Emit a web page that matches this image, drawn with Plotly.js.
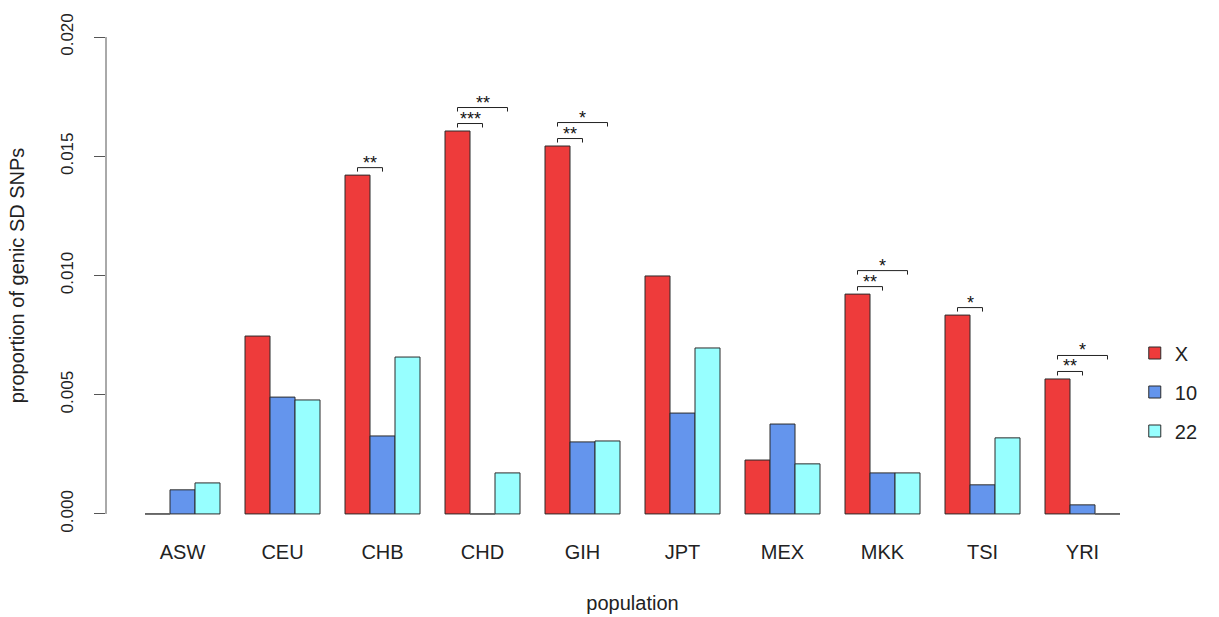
<!DOCTYPE html>
<html>
<head>
<meta charset="utf-8">
<script src="https://cdn.plot.ly/plotly-3.0.1.min.js"></script>
<style>html,body{margin:0;padding:0;background:#fff;}#chart{width:1219px;height:617px;}</style>
</head>
<body>
<div id="chart"></div>
<script>
const populations = ["ASW","CEU","CHB","CHD","GIH","JPT","MEX","MKK","TSI","YRI"];
const seriesNames = ["X","10","22"];
const valuesX  = [0.0000, 0.00746, 0.01421, 0.01606, 0.01543, 0.00998, 0.00226, 0.00922, 0.00834, 0.00566];
const values10 = [0.00101, 0.00490, 0.00327, 0.0000, 0.00302, 0.00423, 0.00377, 0.00172, 0.00122, 0.00038];
const values22 = [0.00130, 0.00478, 0.00658, 0.00172, 0.00306, 0.00696, 0.00210, 0.00172, 0.00319, 0.0000];
const sigX10 = ["", "", "**", "***", "**", "", "", "**", "*", "**"];
const sigX22 = ["", "", "", "**", "*", "", "", "*", "", "*"];
const yTicks = [0, 0.005, 0.010, 0.015, 0.020];
const yTickText = ["0.000","0.005","0.010","0.015","0.020"];

const colors = ["#EE3B3B", "#6495ED", "#97FFFF"];
const allSeries = [valuesX, values10, values22];
const FONT = "Liberation Sans, Arial, sans-serif";

const traces = allSeries.map((vals, k) => ({
  type: "bar",
  name: seriesNames[k],
  legendgroup: "g" + k,
  x: populations,
  y: vals,
  marker: {color: colors[k], line: {color: "#2b2b2b", width: 1}},
  hoverinfo: "x+y+name"
}));

const shapes = [];
const annotations = [];
const pxPerUnit = 477 / 0.020;
const d = px => px / pxPerUnit;

// y axis line from 0 to 0.020
shapes.push({type: "line", xref: "paper", yref: "y", x0: 0, x1: 0, y0: 0, y1: 0.020,
  line: {color: "#555", width: 1}});

// zero-height bars drawn as baseline segments
const offsets = [-0.25, 0, 0.25];
allSeries.forEach((vals, k) => {
  vals.forEach((v, i) => {
    if (v === 0) {
      shapes.push({type: "line", xref: "x", yref: "y",
        x0: i + offsets[k] - 0.125, x1: i + offsets[k] + 0.125, y0: 0, y1: 0,
        line: {color: "#777", width: 1}});
    }
  });
});

function bracket(xa, xb, yb, label) {
  const tick = d(4);
  shapes.push({type: "path", xref: "x", yref: "y",
    path: `M ${xa},${yb - tick} L ${xa},${yb} L ${xb},${yb} L ${xb},${yb - tick}`,
    line: {color: "#222", width: 1}});
  annotations.push({xref: "x", yref: "y", x: (xa + xb) / 2, y: yb, text: label,
    showarrow: false, yanchor: "middle", yshift: 5, font: {family: FONT, size: 18, color: "#111"}});
}

populations.forEach((p, i) => {
  const top = valuesX[i];
  const y1 = top + d(7.5);
  const y2 = y1 + d(16);
  if (sigX10[i]) bracket(i - 0.25, i, y1, sigX10[i]);
  if (sigX22[i]) bracket(i - 0.25, i + 0.25, y2, sigX22[i]);
});

const layout = {
  width: 1219, height: 617,
  margin: {l: 106, r: 60, t: 18, b: 84},
  paper_bgcolor: "#fff", plot_bgcolor: "#fff",
  barmode: "group", bargap: 0.25, bargroupgap: 0,
  font: {family: FONT, size: 16, color: "#222"},
  showlegend: true,
  legend: {x: 0.977, xanchor: "left",
    y: 1 - (392 - 18) / 515, yanchor: "middle",
    font: {family: FONT, size: 20, color: "#222"}, tracegroupgap: 10, itemwidth: 30,
    bgcolor: "rgba(0,0,0,0)"},
  xaxis: {
    type: "category", range: [-0.765, 9.765], showline: false, showgrid: false, zeroline: false,
    ticks: "", tickfont: {family: FONT, size: 20, color: "#222"}, ticklabelstandoff: 5,
    title: {text: "population", font: {family: FONT, size: 20, color: "#222"}, standoff: 33}
  },
  yaxis: {
    range: [-0.0008, 0.0208], showline: false, showgrid: false, zeroline: false,
    tickvals: yTicks, ticktext: yTickText, ticks: "outside", ticklen: 11, tickcolor: "#555",
    tickangle: -90, tickfont: {family: FONT, size: 17, color: "#222"}, ticklabelstandoff: 14,
    title: {text: "proportion of genic SD SNPs", font: {family: FONT, size: 20, color: "#222"}, standoff: 28}
  },
  shapes: shapes,
  annotations: annotations
};

Plotly.newPlot("chart", traces, layout, {displayModeBar: false});
</script>
</body>
</html>
